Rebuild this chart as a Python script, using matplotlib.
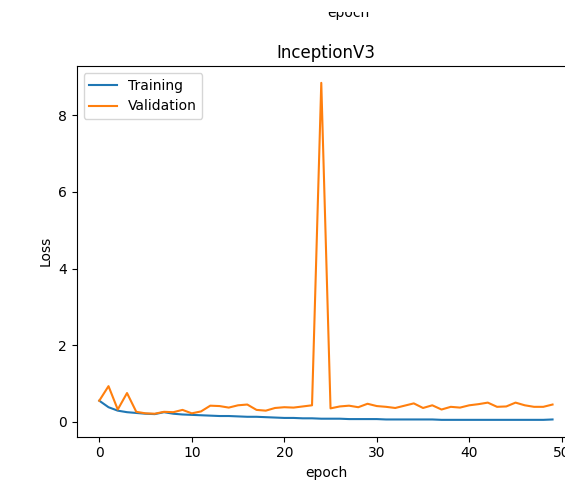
import matplotlib.pyplot as plt
from matplotlib.patches import Rectangle

epochs = list(range(50))

train_loss = [
    0.55, 0.38, 0.29, 0.25, 0.23, 0.21, 0.20, 0.25, 0.21, 0.19,
    0.18, 0.17, 0.16, 0.15, 0.15, 0.14, 0.13, 0.13, 0.12, 0.11,
    0.10, 0.10, 0.09, 0.09, 0.08, 0.08, 0.08, 0.07, 0.07, 0.07,
    0.07, 0.06, 0.06, 0.06, 0.06, 0.06, 0.06, 0.05, 0.05, 0.05,
    0.05, 0.05, 0.05, 0.05, 0.05, 0.05, 0.05, 0.05, 0.05, 0.06,
]

val_loss = [
    0.55, 0.93, 0.32, 0.75, 0.26, 0.22, 0.21, 0.26, 0.25, 0.31,
    0.22, 0.27, 0.42, 0.41, 0.37, 0.43, 0.45, 0.31, 0.29, 0.36,
    0.38, 0.37, 0.40, 0.43, 8.85, 0.35, 0.40, 0.42, 0.38, 0.47,
    0.41, 0.39, 0.36, 0.42, 0.48, 0.36, 0.43, 0.32, 0.39, 0.37,
    0.43, 0.46, 0.50, 0.39, 0.40, 0.50, 0.43, 0.39, 0.39, 0.45,
]

W, H = 565, 482
fig = plt.figure(figsize=(W / 100, H / 100), dpi=100)
ax = fig.add_axes([76.6 / W, 45.3 / H, 498.6 / W, 370.7 / H])

ax.plot(epochs, train_loss, label="Training")
ax.plot(epochs, val_loss, label="Validation")
ax.set_title("InceptionV3")
ax.set_xlabel("epoch")
ax.set_ylabel("Loss")
ax.legend(loc="upper left")

# xlabel of the panel above, cut off by the crop
fig.text(348 / W, (H - 17) / H, "epoch", ha="center", va="baseline", fontsize=10)
fig.patches.append(Rectangle((0, (H - 12) / H), 1, 12 / H, transform=fig.transFigure,
                             facecolor="white", edgecolor="none", zorder=10))

fig.savefig("out.png", dpi=100)
